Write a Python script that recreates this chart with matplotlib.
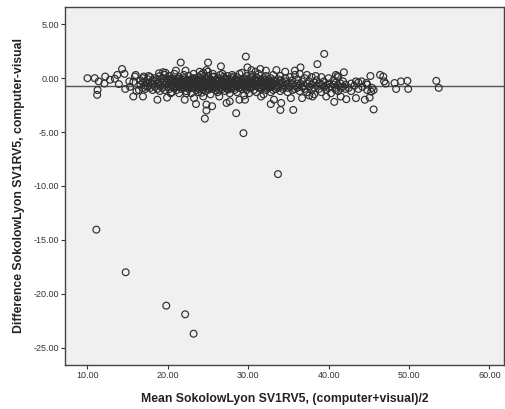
import matplotlib
matplotlib.use("Agg")
import matplotlib.pyplot as plt

# ---- data ----
# peripheral / clearly visible points
edge_mean = [10.0, 10.9, 11.4, 11.25, 11.2, 12.2, 12.1, 12.8, 13.4, 13.7, 13.9, 14.3, 14.6, 14.7,
             15.2, 15.3, 15.7, 15.9, 16.0, 15.7, 16.1, 16.4, 16.9, 17.0, 17.6, 18.7, 18.9, 19.4,
             19.7, 19.9, 20.35, 21.0, 21.6, 22.1, 22.2, 22.3, 23.25, 23.5, 23.95, 24.2, 24.4,
             24.6, 24.8, 24.8, 25.0, 24.8, 25.5, 26.6, 26.4, 27.3, 27.7, 28.5, 28.9, 29.4, 29.7,
             29.9, 29.6, 30.4, 30.9, 31.5, 32.2, 31.6, 32.8, 33.2, 33.5, 33.7, 34.0, 34.1, 34.6,
             35.3, 35.6, 35.8, 36.5, 36.7, 37.3, 38.0, 38.4, 38.6, 39.45, 39.7, 40.7, 40.9, 41.1,
             41.9, 42.2, 41.5, 43.4, 43.4, 44.1, 44.5, 44.7, 45.2, 45.1, 45.3, 45.6, 45.6, 46.4,
             46.8, 46.9, 47.1, 48.2, 48.4, 49.0, 49.8, 49.9, 53.4, 53.7]
edge_diff = [0.0, 0.0, -0.3, -1.1, -1.55, 0.15, -0.5, -0.15, -0.05, 0.3, -0.55, 0.85, 0.4, -1.0,
             -0.3, -0.8, -0.35, 0.15, 0.3, -1.7, -1.2, -1.1, -1.7, 0.15, 0.2, -2.0, 0.45, 0.55,
             0.5, -1.8, -1.4, 0.7, 1.45, -2.0, 0.7, -1.4, -1.85, -2.4, 0.6, -1.35, -1.7,
             -3.75, -2.45, -3.0, 1.45, 0.75, -2.6, 1.1, -1.7, -2.3, -2.15, -3.25, -2.0, -5.1, 2.0,
             1.0, -2.0, 0.75, 0.6, 0.85, 0.7, -1.7, -2.4, -2.0, 0.75, -8.9, -2.95, -2.3, 0.6,
             -1.85, -2.95, 0.7, 1.0, -1.85, 0.3, -1.7, 0.2, 1.3, 2.25, -1.7, -2.2, -1.1, 0.2,
             0.55, -1.95, -1.7, -0.3, -1.85, -0.3, -2.0, -0.45, 0.2, -1.8, -1.25, -2.9, -1.1, 0.3,
             0.15, -0.3, -0.5, -0.45, -1.0, -0.3, -0.25, -1.0, -0.25, -0.9]

# large negative outliers
outlier_mean = [11.1, 14.75, 19.8, 22.15, 23.2]
outlier_diff = [-14.05, -18.0, -21.1, -21.9, -23.7]

# dense central band: mean value and the differences read around it
band_mean = [16.6, 16.9, 17.2, 17.5, 17.8, 18.1, 18.4, 18.7, 19.0, 19.3, 19.6, 19.9, 20.2, 20.5,
             20.8, 21.1, 21.4, 21.7, 22.0, 22.3, 22.6, 22.9, 23.2, 23.5, 23.8, 24.1, 24.4, 24.7,
             25.0, 25.3, 25.6, 25.9, 26.2, 26.5, 26.8, 27.1, 27.4, 27.7, 28.0, 28.3, 28.6, 28.9,
             29.2, 29.5, 29.8, 30.1, 30.4, 30.7, 31.0, 31.3, 31.6, 31.9, 32.2, 32.5, 32.8, 33.1,
             33.4, 33.7, 34.0, 34.3, 34.6, 34.9, 35.2, 35.5, 35.8, 36.1, 36.4, 36.7, 37.0, 37.3,
             37.6, 37.9, 38.2, 38.5, 38.8, 39.1, 39.4, 39.7, 40.0, 40.3, 40.6, 40.9, 41.2, 41.5,
             41.8, 42.1, 42.5, 42.8, 43.2, 43.7, 44.2, 44.8, 45.4]
band_diffs = [
    [-0.6, -0.2], [-0.9, -0.4, 0.0], [-0.7, -0.3, -1.0], [-0.5, -0.1, -0.8], [-0.9, -0.4, 0.1],
    [-0.6, -0.2, -1.1], [-0.8, -0.3, 0.0], [-0.5, -1.0, -0.1], [-0.7, -0.3, 0.2, -1.2],
    [-0.9, -0.4, 0.0], [-0.6, -0.2, -1.1, 0.3], [-0.8, -0.4, -0.1], [-1.0, -0.5, -0.2, 0.2],
    [-0.7, -0.3, -1.3, 0.0], [-0.9, -0.5, -0.1, 0.4], [-0.6, -0.2, -1.1, -0.4],
    [-0.8, -0.3, 0.1, -1.4], [-0.7, -0.4, -0.1, -1.0], [-0.9, -0.5, 0.0, 0.3],
    [-0.6, -0.2, -1.2, -0.8], [-0.7, -0.3, 0.2, -1.0], [-0.5, -0.1, -0.9, -1.4],
    [-0.8, -0.4, 0.0, 0.4], [-0.6, -0.2, -1.1, -0.9], [-0.7, -0.3, 0.1, -1.3],
    [-0.9, -0.5, -0.1, 0.3], [-0.6, -0.2, -1.0, 0.5], [-0.8, -0.4, 0.0, -1.2],
    [-0.7, -0.3, 0.2, -1.0, 0.6], [-0.5, -0.1, -0.9, -1.5], [-0.8, -0.4, 0.1, 0.4],
    [-0.6, -0.2, -1.1, -0.9], [-0.7, -0.3, 0.0, -1.3], [-0.9, -0.5, -0.1, 0.3],
    [-0.6, -0.2, -1.0, 0.4], [-0.8, -0.4, 0.0, -1.2], [-0.7, -0.3, 0.2, -1.0],
    [-0.5, -0.1, -0.9, -1.4], [-0.8, -0.4, 0.0, 0.3], [-0.6, -0.2, -1.1, -0.9],
    [-0.7, -0.3, 0.1, -1.3], [-0.9, -0.5, -0.1, 0.4], [-0.6, -0.2, -1.0, 0.5],
    [-0.8, -0.4, 0.0, -1.6], [-0.7, -0.3, 0.2, -1.1], [-0.5, -0.1, -0.9, -1.4],
    [-0.8, -0.4, 0.0, 0.3], [-0.6, -0.2, -1.1], [-0.7, -0.3, 0.1, -1.3],
    [-0.9, -0.5, -0.1, 0.4], [-0.6, -0.2, -1.0], [-0.8, -0.4, 0.0, -1.5],
    [-0.7, -0.3, 0.2, -1.1], [-0.5, -0.1, -0.9], [-0.8, -0.4, 0.0, -1.3],
    [-0.6, -0.2, -1.1, 0.3], [-0.7, -0.3, -1.0], [-0.9, -0.5, -0.1], [-0.6, -0.2, -1.2, 0.2],
    [-0.8, -0.4, -1.0], [-0.7, -0.3, 0.0], [-0.5, -0.9, -1.3], [-0.8, -0.4, 0.1],
    [-0.6, -0.2, -1.1], [-0.7, -1.0, 0.3], [-0.9, -0.5, -0.1], [-0.6, -1.2, 0.4],
    [-0.8, -0.3], [-0.7, -1.0, 0.0], [-0.5, -1.3], [-0.8, -0.3, -1.6], [-0.6, -1.1, 0.1],
    [-0.9, -1.5, -0.4], [-0.7, -0.2], [-1.0, -0.5], [-0.6, -1.3, 0.1], [-0.8, -0.3],
    [-0.7, -1.1], [-0.5, -0.9, 0.0], [-0.8, -1.4], [-0.6, -0.2], [-0.9, -0.4, 0.3],
    [-0.7, -1.2, 0.1], [-0.5, -0.9], [-0.8, -0.3], [-0.6, -1.0], [-0.9], [-0.5, -1.2],
    [-0.7], [-0.4, -1.0], [-0.8], [-1.1, -0.6], [-0.9]]

# extra points in the darkest part of the band (about 20-34)
core_mean = [20.35, 20.65, 20.95, 21.25, 21.55, 21.85, 22.15, 22.45, 22.75, 23.05, 23.35, 23.65,
             23.95, 24.25, 24.55, 24.85, 25.15, 25.45, 25.75, 26.05, 26.35, 26.65, 26.95, 27.25,
             27.55, 27.85, 28.15, 28.45, 28.75, 29.05, 29.35, 29.65, 29.95, 30.25, 30.55, 30.85,
             31.15, 31.45, 31.75, 32.05, 32.35, 32.65, 32.95, 33.25]
core_diffs = [
    [-0.65, -0.15], [-0.45, -0.85], [-0.35, -0.75], [-0.55, -0.05], [-0.65, -0.25],
    [-0.45, -0.85], [-0.35, -0.75], [-0.55, -0.15], [-0.65, -0.25], [-0.45, -0.85],
    [-0.35, -0.75, -0.05], [-0.55, -0.15], [-0.65, -0.25, -1.05], [-0.45, -0.85],
    [-0.35, -0.75, 0.15], [-0.55, -0.15], [-0.65, -0.25, -1.05], [-0.45, -0.85],
    [-0.35, -0.75, 0.15], [-0.55, -0.15], [-0.65, -0.25, -1.05], [-0.45, -0.85],
    [-0.35, -0.75, 0.15], [-0.55, -0.15], [-0.65, -0.25, -1.05], [-0.45, -0.85],
    [-0.35, -0.75, 0.15], [-0.55, -0.15], [-0.65, -0.25], [-0.45, -0.85],
    [-0.35, -0.75], [-0.55, -0.15], [-0.65, -0.25], [-0.45, -0.85],
    [-0.35, -0.75], [-0.55, -0.15], [-0.65, -0.25], [-0.45, -0.85],
    [-0.35, -0.75], [-0.55, -0.15], [-0.65, -0.25], [-0.45, -0.85],
    [-0.35, -0.75], [-0.55]]

mean_diff = -0.75

xticks = [10, 20, 30, 40, 50, 60]
yticks = [5, 0, -5, -10, -15, -20, -25]

# ---- build point lists ----
xs = list(edge_mean) + list(outlier_mean)
ys = list(edge_diff) + list(outlier_diff)
for means, diffs in ((band_mean, band_diffs), (core_mean, core_diffs)):
    for m, ds in zip(means, diffs):
        for d in ds:
            xs.append(m)
            ys.append(d)

plt.rcParams['font.family'] = ['Liberation Sans', 'DejaVu Sans']

fig = plt.figure(figsize=(5.05, 4.09), dpi=100)
ax = fig.add_axes([0.1287, 0.1076, 0.869, 0.8753])
ax.set_facecolor('#f0f0f0')

ax.axhline(mean_diff, color='#555555', lw=1.0, zorder=1)
ax.scatter(xs, ys, s=24, facecolors='none', edgecolors='#2e2e2e', linewidths=0.85, zorder=2)

ax.set_xlim(7.2, 61.8)
ax.set_ylim(-26.6, 6.6)
ax.set_xticks(xticks)
ax.set_xticklabels([f"{v:.2f}" for v in xticks])
ax.set_yticks(yticks)
ax.set_yticklabels([f"{v:.2f}" for v in yticks])
ax.tick_params(axis='both', labelsize=6.5, colors='#333333', length=3, width=0.8, pad=1.5)

for sp in ax.spines.values():
    sp.set_color('#444444')
    sp.set_linewidth(1.0)

ax.set_xlabel('Mean SokolowLyon SV1RV5, (computer+visual)/2', fontsize=8.8,
              fontweight='bold', color='#222222', labelpad=9)
ax.set_ylabel('Difference SokolowLyon SV1RV5, computer-visual', fontsize=8.8,
              fontweight='bold', color='#222222', labelpad=6)

fig.savefig('out.png', dpi=100)
